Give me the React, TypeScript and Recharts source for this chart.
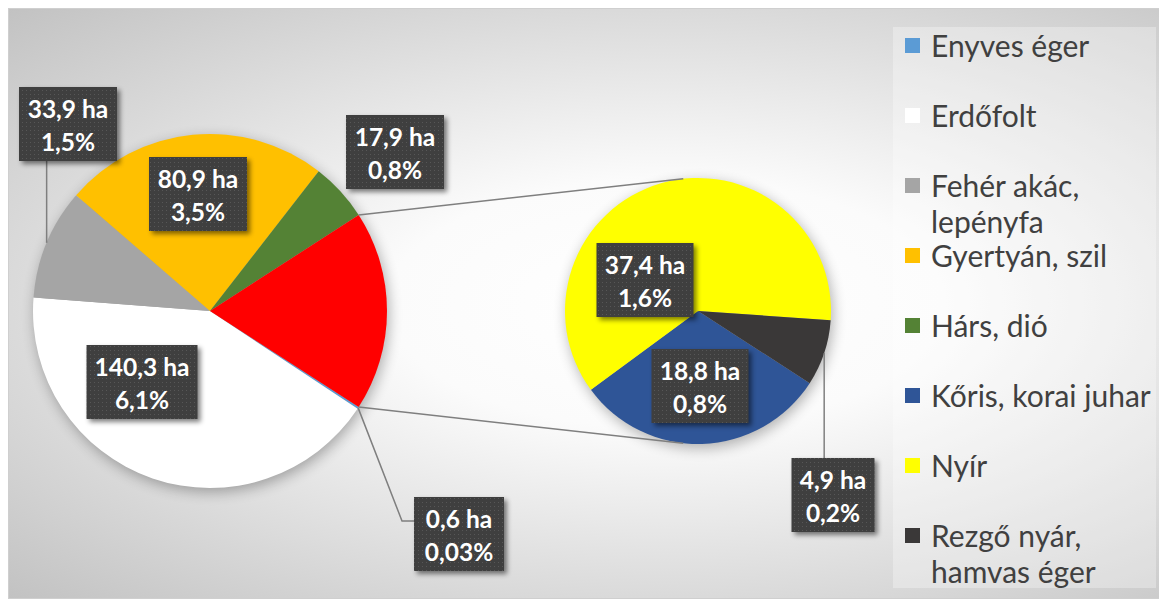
import React from "react";
import { PieChart, Pie, Cell } from "recharts";

// values (ha)
const mainNames = ["Enyves éger", "Erdőfolt", "Fehér akác, lepényfa", "Gyertyán, szil", "Hárs, dió"];
const mainValues = [0.6, 140.3, 33.9, 80.9, 17.9];
const mainPercents = ["0,03%", "6,1%", "1,5%", "3,5%", "0,8%"];

const subNames = ["Kőris, korai juhar", "Nyír", "Rezgő nyár, hamvas éger"];
const subValues = [18.8, 37.4, 4.9];
const subPercents = ["0,8%", "1,6%", "0,2%"];

const legendNames = [...mainNames, ...subNames];

const COLORS: Record<string, string> = {
  "Enyves éger": "#5B9BD5",
  "Erdőfolt": "#FFFFFF",
  "Fehér akác, lepényfa": "#A5A5A5",
  "Gyertyán, szil": "#FFC000",
  "Hárs, dió": "#548235",
  "Kőris, korai juhar": "#2F5597",
  "Nyír": "#FFFF00",
  "Rezgő nyár, hamvas éger": "#3A3838",
  other: "#FF0000",
};

// label box placement (chart px)
const LABELS: Record<string, { x: number; y: number; w: number; leader?: "v" | "elbow" }> = {
  "Enyves éger": { x: 450, y: 525, w: 90, leader: "elbow" },
  "Erdőfolt": { x: 133, y: 373, w: 111 },
  "Fehér akác, lepényfa": { x: 59, y: 115, w: 98, leader: "v" },
  "Gyertyán, szil": { x: 189, y: 185, w: 98 },
  "Hárs, dió": { x: 386, y: 143, w: 98 },
  "Kőris, korai juhar": { x: 691, y: 377, w: 97 },
  "Nyír": { x: 636, y: 271, w: 97 },
  "Rezgő nyár, hamvas éger": { x: 824, y: 486, w: 83, leader: "v" },
};

const W = 1153;
const H = 589;
const MAIN_CX = 201;
const MAIN_CY = 302;
const MAIN_R = 177;
const SUB_CX = 689;
const SUB_CY = 302;
const SUB_R = 133;
const BOX_H = 74;
const FONT = "Lato, 'Open Sans', sans-serif";

const otherValue = subValues.reduce((a, b) => a + b, 0);
const mainData = [
  ...mainNames.map((name, i) => ({ name, value: mainValues[i], pct: mainPercents[i] })),
  { name: "other", value: otherValue, pct: "" },
];
const subData = subNames.map((name, i) => ({ name, value: subValues[i], pct: subPercents[i] }));

const mainTotal = mainData.reduce((a, d) => a + d.value, 0);
const half = (otherValue / mainTotal) * 180;
const START = -half;
const END = -half - 360;

const RAD = Math.PI / 180;
const polar = (cx: number, cy: number, r: number, a: number) => [
  cx + r * Math.cos(-a * RAD),
  cy + r * Math.sin(-a * RAD),
];

// tangent point from (px,py) to the small pie; sign -1 = upper, +1 = lower
const tangent = (px: number, py: number, sign: number) => {
  const dx = SUB_CX - px;
  const dy = SUB_CY - py;
  const d = Math.hypot(dx, dy);
  const t = Math.sqrt(d * d - SUB_R * SUB_R);
  const ang = Math.atan2(dy, dx) + sign * Math.asin(SUB_R / d);
  return [px + t * Math.cos(ang), py + t * Math.sin(ang)];
};

const fmt = (v: number) => v.toFixed(1).replace(".", ",") + " ha";

const renderLabel = (props: any) => {
  const { cx, cy, midAngle, outerRadius, startAngle, endAngle, payload, value, index } = props;
  const name = payload?.name ?? props.name;

  if (name === "other") {
    const a = polar(cx, cy, outerRadius, startAngle);
    const b = polar(cx, cy, outerRadius, endAngle);
    const [top, bot] = a[1] < b[1] ? [a, b] : [b, a];
    const t1 = tangent(top[0], top[1], -1);
    const t2 = tangent(bot[0], bot[1], 1);
    return (
      <g key={`conn-${index}`}>
        <line x1={top[0]} y1={top[1]} x2={t1[0]} y2={t1[1]} stroke="#7f7f7f" strokeWidth={1.5} />
        <line x1={bot[0]} y1={bot[1]} x2={t2[0]} y2={t2[1]} stroke="#7f7f7f" strokeWidth={1.5} />
      </g>
    );
  }

  const box = LABELS[name];
  if (!box) return <g key={`l-${index}`} />;
  const left = box.x - box.w / 2;
  const topY = box.y - BOX_H / 2;
  const [px, py] = polar(cx, cy, outerRadius, midAngle);

  let leader = null;
  if (box.leader === "v") {
    const ey = py > box.y ? topY + BOX_H : topY;
    leader = <polyline points={`${px},${py} ${px},${ey}`} fill="none" stroke="#7f7f7f" strokeWidth={1.5} />;
  } else if (box.leader === "elbow") {
    const ly = topY + 24;
    leader = (
      <polyline
        points={`${px},${py} ${left - 12},${ly} ${left},${ly}`}
        fill="none"
        stroke="#7f7f7f"
        strokeWidth={1.5}
      />
    );
  }

  const textProps = {
    x: box.x,
    textAnchor: "middle" as const,
    dominantBaseline: "central" as const,
    fill: "#fff",
    fontFamily: FONT,
    fontWeight: 700,
    fontSize: 24.5,
  };

  return (
    <g key={`l-${index}`}>
      {leader}
      <rect x={left + 3} y={topY + 3} width={box.w} height={BOX_H} fill="#000" opacity={0.5} filter="url(#boxBlur)" />
      <rect x={left} y={topY} width={box.w} height={BOX_H} fill="url(#dots)" />
      <text {...textProps} y={box.y - 16}>
        {fmt(value)}
      </text>
      <text {...textProps} y={box.y + 17}>
        {payload?.pct}
      </text>
    </g>
  );
};

const LegendBox = () => (
  <div
    style={{
      position: "absolute",
      left: 884,
      top: 18,
      width: 263,
      height: 561,
      background: "rgba(255,255,255,0.3)",
      fontFamily: FONT,
      fontSize: 30,
      color: "#404040",
    }}
  >
    {legendNames.map((name, i) => (
      <div key={name} style={{ position: "absolute", left: 0, top: 18 + i * 70 - 18, width: 280 }}>
        <span
          style={{
            position: "absolute",
            left: 12,
            top: 11,
            width: 15,
            height: 15,
            background: COLORS[name],
          }}
        />
        <div style={{ position: "absolute", left: 38, top: 0, width: 232, lineHeight: "36px" }}>{name}</div>
      </div>
    ))}
  </div>
);

// soft shadow behind both pies, same geometry as the pies
const PieShadows = () => (
  <svg width={W} height={H} style={{ position: "absolute", left: 0, top: 0 }}>
    <defs>
      <filter id="pieShadow" x="-30%" y="-30%" width="160%" height="160%">
        <feGaussianBlur stdDeviation={7} />
      </filter>
    </defs>
    <g filter="url(#pieShadow)" opacity={0.3}>
      <circle cx={MAIN_CX + 2} cy={MAIN_CY + 4} r={MAIN_R} fill="#000" />
      <circle cx={SUB_CX + 2} cy={SUB_CY + 4} r={SUB_R} fill="#000" />
    </g>
  </svg>
);

export default function App() {
  return (
    <div
      style={{
        position: "relative",
        width: W,
        height: H,
        border: "1px solid #cfcfcf",
        background: "radial-gradient(ellipse at 57% 50%, #ffffff 0%, #fbfbfb 30%, #c2c2c2 100%)",
        fontFamily: FONT,
      }}
    >
      <svg width={0} height={0} style={{ position: "absolute" }}>
        <defs>
          <pattern id="dots" width={4} height={4} patternUnits="userSpaceOnUse">
            <rect width={4} height={4} fill="#3f3f3f" />
            <rect x={1} y={1} width={1} height={1} fill="#575757" />
          </pattern>
          <filter id="boxBlur" x="-20%" y="-20%" width="140%" height="140%">
            <feGaussianBlur stdDeviation={2.5} />
          </filter>
        </defs>
      </svg>
      <PieShadows />
      <PieChart width={W} height={H} margin={{ top: 0, right: 0, bottom: 0, left: 0 }}>
        <Pie
          data={mainData}
          dataKey="value"
          cx={MAIN_CX}
          cy={MAIN_CY}
          outerRadius={MAIN_R}
          startAngle={START}
          endAngle={END}
          stroke="none"
          label={renderLabel}
          labelLine={false}
          isAnimationActive={false}
        >
          {mainData.map((d) => (
            <Cell key={d.name} fill={COLORS[d.name]} stroke="none" />
          ))}
        </Pie>
        <Pie
          data={subData}
          dataKey="value"
          cx={SUB_CX}
          cy={SUB_CY}
          outerRadius={SUB_R}
          startAngle={START}
          endAngle={END}
          stroke="none"
          label={renderLabel}
          labelLine={false}
          isAnimationActive={false}
        >
          {subData.map((d) => (
            <Cell key={d.name} fill={COLORS[d.name]} stroke="none" />
          ))}
        </Pie>
      </PieChart>
      <LegendBox />
    </div>
  );
}
